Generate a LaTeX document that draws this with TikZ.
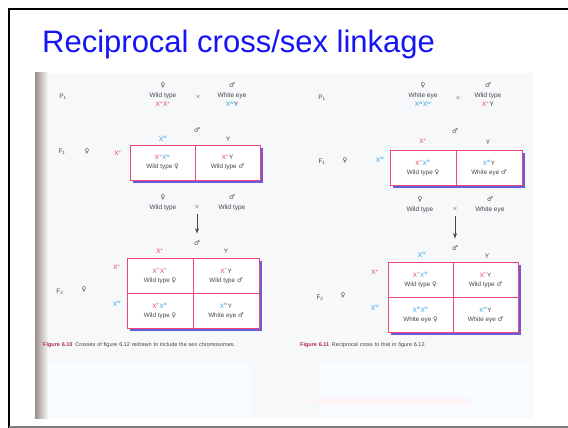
\documentclass[tikz,border=0pt]{standalone}
\usepackage{fontspec}
\setmainfont{Liberation Sans}
\newfontfamily\symfont{DejaVu Sans}
\usepackage{tikz}
\usetikzlibrary{arrows.meta,shadows}
\definecolor{titleblue}{HTML}{1414F5}
\definecolor{boxpink}{HTML}{E8467C}
\definecolor{shadeblue}{HTML}{6B5BD6}
\definecolor{genred}{HTML}{E83A5A}
\definecolor{genblue}{HTML}{2A9BE0}
\definecolor{figred}{HTML}{A8304E}
\definecolor{inkgray}{HTML}{45454C}
\definecolor{scanwhite}{HTML}{F7F8FA}
\definecolor{bindbrown}{HTML}{9C8F84}
\newcommand{\xp}{\textcolor{genred}{X\textsuperscript{+}}}
\newcommand{\xw}{\textcolor{genblue}{X\textsuperscript{w}}}
\newcommand{\fem}{{\symfont ♀}}
\newcommand{\mal}{{\symfont ♂}}

\begin{document}
\begin{tikzpicture}[x=1pt,y=-1pt,>=Stealth,
 lab/.style={font=\fontsize{6.5}{9.5}\selectfont,text=inkgray,inner sep=1pt,align=center},
 cell/.style={draw=boxpink,line width=1pt,fill=white,align=center,
  minimum width=#1,minimum height=35pt,inner sep=1pt,
  font=\fontsize{6.3}{8.8}\selectfont,text=inkgray,
  drop shadow={shadow xshift=2.5pt,shadow yshift=-2.5pt,fill=shadeblue,opacity=1}},
 cell/.default=65pt,
 capt/.style={font=\fontsize{5.5}{7}\selectfont,text=inkgray,align=left,
  anchor=north west,inner sep=0pt},
 arr/.style={->,draw=inkgray,line width=.5pt,shorten >=6pt,shorten <=3pt}]
\useasboundingbox (0,0) rectangle (568,428);
% slide frame and title
\draw[black,line width=2pt] (570,9) -- (9,9) -- (9,428);
\draw[gray,line width=1.5pt] (9,427) -- (570,427);
\node[anchor=base west,font=\fontsize{31}{36}\selectfont,text=titleblue,inner sep=0pt]
 (title) at (42,53) {Reciprocal cross/sex linkage};
% scanned page
\fill[scanwhite] (35,73) rectangle (533,418);
\shade[left color=bindbrown,right color=scanwhite] (35,73) rectangle (48,418);
\fill[genblue!3] (48,362) rectangle (250,416);
\fill[genblue!3] (320,362) rectangle (530,416);
\fill[genred!6] (310,398) rectangle (470,404);

% left: P1
\node[lab] (p1L) at (63,97) {P\textsubscript{1}};
\node[lab] (pfL) at (163,95) {\fem\\Wild type\\\xp\xp};
\node[lab] (x1L) at (198,97) {$\times$};
\node[lab] (pmL) at (232,95) {\mal\\White eye\\\xw Y};
% left: F1
\node[lab] (f1mL) at (197,130) {\mal};
\node[lab] (f1c1L) at (163,139) {\xw};
\node[lab] (f1c2L) at (228,139) {Y};
\node[lab] (f1L) at (62,152) {F\textsubscript{1}};
\node[lab] (f1fL) at (87,152) {\fem};
\node[lab] (f1r1L) at (118,153) {\xp};
\node[cell] (a1L) at (162.5,162.5) {\xp\xw\\Wild type \fem};
\node[cell] (a2L) at (227.5,162.5) {\xp Y\\Wild type \mal};
% left: F1 x F1
\node[lab] (qfL) at (163,203) {\fem\\Wild type};
\node[lab] (x2L) at (197,207) {$\times$};
\node[lab] (qmL) at (232,203) {\mal\\Wild type};
% left: F2
\node[lab] (f2mL) at (197,243) {\mal};
\node[lab] (f2c1L) at (160,251) {\xp};
\node[lab] (f2c2L) at (226,251) {Y};
\node[lab] (f2L) at (60,292) {F\textsubscript{2}};
\node[lab] (f2fL) at (84,290) {\fem};
\node[lab] (f2r1L) at (117,267) {\xp};
\node[lab] (f2r2L) at (117,304) {\xw};
\node[cell=66pt] (b1L) at (160,276) {\xp\xp\\Wild type \fem};
\node[cell=66pt] (b2L) at (226,276) {\xp Y\\Wild type \mal};
\node[cell=66pt] (b3L) at (160,311) {\xp\xw\\Wild type \fem};
\node[cell=66pt] (b4L) at (226,311) {\xw Y\\White eye \mal};
\draw[arr] (x2L) -- (f2mL);

% right: P1
\node[lab] (p1R) at (322,98) {P\textsubscript{1}};
\node[lab] (pfR) at (423,95) {\fem\\White eye\\\xw\xw};
\node[lab] (x1R) at (458,98) {$\times$};
\node[lab] (pmR) at (488,95) {\mal\\Wild type\\\xp Y};
% right: F1
\node[lab] (f1mR) at (455,131) {\mal};
\node[lab] (f1c1R) at (423,141) {\xp};
\node[lab] (f1c2R) at (488,142) {Y};
\node[lab] (f1R) at (322,162) {F\textsubscript{1}};
\node[lab] (f1fR) at (345,161) {\fem};
\node[lab] (f1r1R) at (380,160) {\xw};
\node[cell=66pt] (a1R) at (423,168) {\xp\xw\\Wild type \fem};
\node[cell=66pt] (a2R) at (489,168) {\xw Y\\White eye \mal};
% right: F1 x F1
\node[lab] (qfR) at (420,205) {\fem\\Wild type};
\node[lab] (x2R) at (455,209) {$\times$};
\node[lab] (qmR) at (490,205) {\mal\\White eye};
% right: F2
\node[lab] (f2mR) at (455,248) {\mal};
\node[lab] (f2c1R) at (422,255) {\xw};
\node[lab] (f2c2R) at (487,256) {Y};
\node[lab] (f2R) at (320,298) {F\textsubscript{2}};
\node[lab] (f2fR) at (343,296) {\fem};
\node[lab] (f2r1R) at (375,272) {\xp};
\node[lab] (f2r2R) at (375,308) {\xw};
\node[cell] (b1R) at (420.5,280) {\xp\xw\\Wild type \fem};
\node[cell] (b2R) at (485.5,280) {\xp Y\\Wild type \mal};
\node[cell] (b3R) at (420.5,315) {\xw\xw\\White eye \fem};
\node[cell] (b4R) at (485.5,315) {\xw Y\\White eye \mal};
\draw[arr] (x2R) -- (f2mR);

% captions
\node[capt,text width=235pt] (capL) at (43,342)
 {\textcolor{figred}{\textbf{Figure 6.10}}\enspace Crosses of figure 6.12 redrawn to include the sex chromosomes.};
\node[capt,text width=200pt] (capR) at (300,342)
 {\textcolor{figred}{\textbf{Figure 6.11}}\enspace Reciprocal cross to that in figure 6.12.};
\end{tikzpicture}
\end{document}
